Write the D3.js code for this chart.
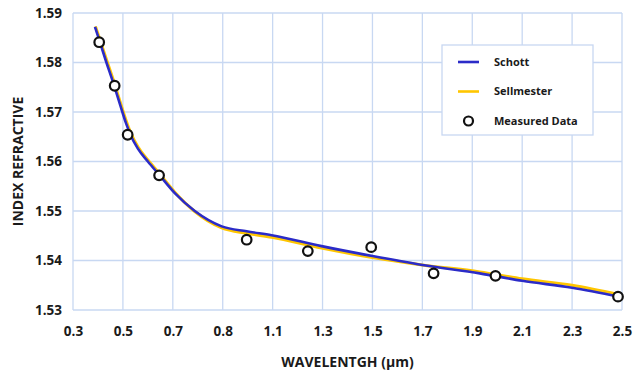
<!DOCTYPE html>
<html>
<head>
<meta charset="utf-8">
<script src="https://cdn.jsdelivr.net/npm/d3@7"></script>
<style>
  html, body { margin: 0; padding: 0; background: #fff; }
  svg text { font-family: "Open Sans", "DejaVu Sans", sans-serif; font-weight: 700; fill: #1a1a1a; }
</style>
</head>
<body>
<div id="chart"></div>
<script>
// Wavelength (µm) and refractive index values
const schottWl  = [0.388, 0.408, 0.432, 0.460, 0.488, 0.512, 0.532, 0.560, 0.600, 0.644, 0.708, 0.788, 0.896, 0.996, 1.096, 1.296, 1.5, 1.7, 1.93, 2.1, 2.3, 2.49];
const schottN   = [1.5872, 1.5841, 1.5803, 1.5761, 1.5716, 1.5678, 1.5652, 1.5626, 1.5600, 1.5574, 1.5536, 1.5500, 1.5469, 1.5459, 1.5451, 1.5429, 1.5409, 1.5391, 1.5374, 1.5359, 1.5345, 1.5327];
const sellWl    = [0.390, 0.408, 0.432, 0.460, 0.488, 0.512, 0.532, 0.560, 0.600, 0.644, 0.708, 0.788, 0.896, 0.996, 1.096, 1.296, 1.5, 1.7, 1.93, 2.1, 2.3, 2.49];
const sellN     = [1.5873, 1.5846, 1.5809, 1.5767, 1.5722, 1.5684, 1.5657, 1.5630, 1.5603, 1.5577, 1.5538, 1.5499, 1.5466, 1.5455, 1.5447, 1.5425, 1.5406, 1.5391, 1.5377, 1.5363, 1.5350, 1.5331];
const measWl    = [0.405, 0.467, 0.519, 0.645, 0.996, 1.241, 1.495, 1.745, 1.993, 2.484];
const measN     = [1.5841, 1.5753, 1.5654, 1.5572, 1.5442, 1.5419, 1.5427, 1.5374, 1.5369, 1.5327];

const xTicks      = [0.3, 0.5, 0.7, 0.9, 1.1, 1.3, 1.5, 1.7, 1.9, 2.1, 2.3, 2.5];
const xTickLabels = ['0.3', '0.5', '0.7', '0.8', '1.1', '1.3', '1.5', '1.7', '1.9', '2.1', '2.3', '2.5'];
const yTicks      = [1.53, 1.54, 1.55, 1.56, 1.57, 1.58, 1.59];

const width = 641, height = 373;
const margin = {left: 73, right: 19, top: 13, bottom: 63};

const svg = d3.select('#chart').append('svg')
    .attr('width', width)
    .attr('height', height);

const x = d3.scaleLinear().domain([0.3, 2.5]).range([margin.left, width - margin.right]);
const y = d3.scaleLinear().domain([1.53, 1.59]).range([height - margin.bottom, margin.top]);

// grid
const grid = svg.append('g').attr('stroke', '#c8d8f2').attr('stroke-width', 1.3);
grid.selectAll('line.v').data(xTicks).join('line')
    .attr('class', 'v')
    .attr('x1', d => x(d)).attr('x2', d => x(d))
    .attr('y1', y(1.59)).attr('y2', y(1.53));
grid.selectAll('line.h').data(yTicks).join('line')
    .attr('class', 'h')
    .attr('x1', x(0.3)).attr('x2', x(2.5))
    .attr('y1', d => y(d)).attr('y2', d => y(d));

// axes (labels only)
const xAxis = d3.axisBottom(x).tickValues(xTicks)
    .tickFormat((d, i) => xTickLabels[i]).tickSize(0).tickPadding(16);
svg.append('g').attr('transform', `translate(0,${y(1.53)})`).call(xAxis)
    .call(g => g.select('.domain').remove())
    .selectAll('text').style('font-size', '13.5px').attr('fill', '#1a1a1a');

const yAxis = d3.axisLeft(y).tickValues(yTicks)
    .tickFormat(d3.format('.2f')).tickSize(0).tickPadding(11);
svg.append('g').attr('transform', `translate(${x(0.3)},0)`).call(yAxis)
    .call(g => g.select('.domain').remove())
    .selectAll('text').style('font-size', '13.5px').attr('fill', '#1a1a1a');

// curves
const line = d3.line().x(d => x(d[0])).y(d => y(d[1])).curve(d3.curveMonotoneX);
const sellData = sellWl.map((w, i) => [w, sellN[i]]);
const schottData = schottWl.map((w, i) => [w, schottN[i]]);

svg.append('path').datum(sellData)
    .attr('d', line).attr('fill', 'none')
    .attr('stroke', '#ffc600').attr('stroke-width', 3);
svg.append('path').datum(schottData)
    .attr('d', line).attr('fill', 'none')
    .attr('stroke', '#2b2bc8').attr('stroke-width', 2.6);

// measured points
svg.selectAll('circle.meas').data(measWl.map((w, i) => [w, measN[i]])).join('circle')
    .attr('class', 'meas')
    .attr('cx', d => x(d[0])).attr('cy', d => y(d[1]))
    .attr('r', 4.8)
    .attr('fill', '#fff').attr('stroke', '#111').attr('stroke-width', 2.2);

// axis titles
svg.append('text')
    .attr('x', (x(0.3) + x(2.5)) / 2).attr('y', 367)
    .attr('text-anchor', 'middle').style('font-size', '14px')
    .text('WAVELENTGH (µm)');
svg.append('text')
    .attr('transform', `translate(23,${(y(1.53) + y(1.59)) / 2}) rotate(-90)`)
    .attr('text-anchor', 'middle').style('font-size', '14px')
    .text('INDEX REFRACTIVE');

// legend
const legend = svg.append('g').attr('transform', 'translate(442,45)');
legend.append('rect').attr('width', 151).attr('height', 90)
    .attr('fill', '#fff').attr('stroke', '#c8d8f2').attr('stroke-width', 1.3);
const items = [
  {name: 'Schott', type: 'line', color: '#2b2bc8'},
  {name: 'Sellmester', type: 'line', color: '#ffc600'},
  {name: 'Measured Data', type: 'circle'}
];
items.forEach((it, i) => {
  const gy = 17 + i * 29.5;
  if (it.type === 'line') {
    legend.append('line').attr('x1', 16).attr('x2', 37).attr('y1', gy).attr('y2', gy)
        .attr('stroke', it.color).attr('stroke-width', 2.6);
  } else {
    legend.append('circle').attr('cx', 26.5).attr('cy', gy).attr('r', 4.5)
        .attr('fill', '#fff').attr('stroke', '#111').attr('stroke-width', 2.2);
  }
  legend.append('text').attr('x', 52).attr('y', gy).attr('dy', '0.35em')
      .style('font-size', '11px').text(it.name);
});
</script>
</body>
</html>
